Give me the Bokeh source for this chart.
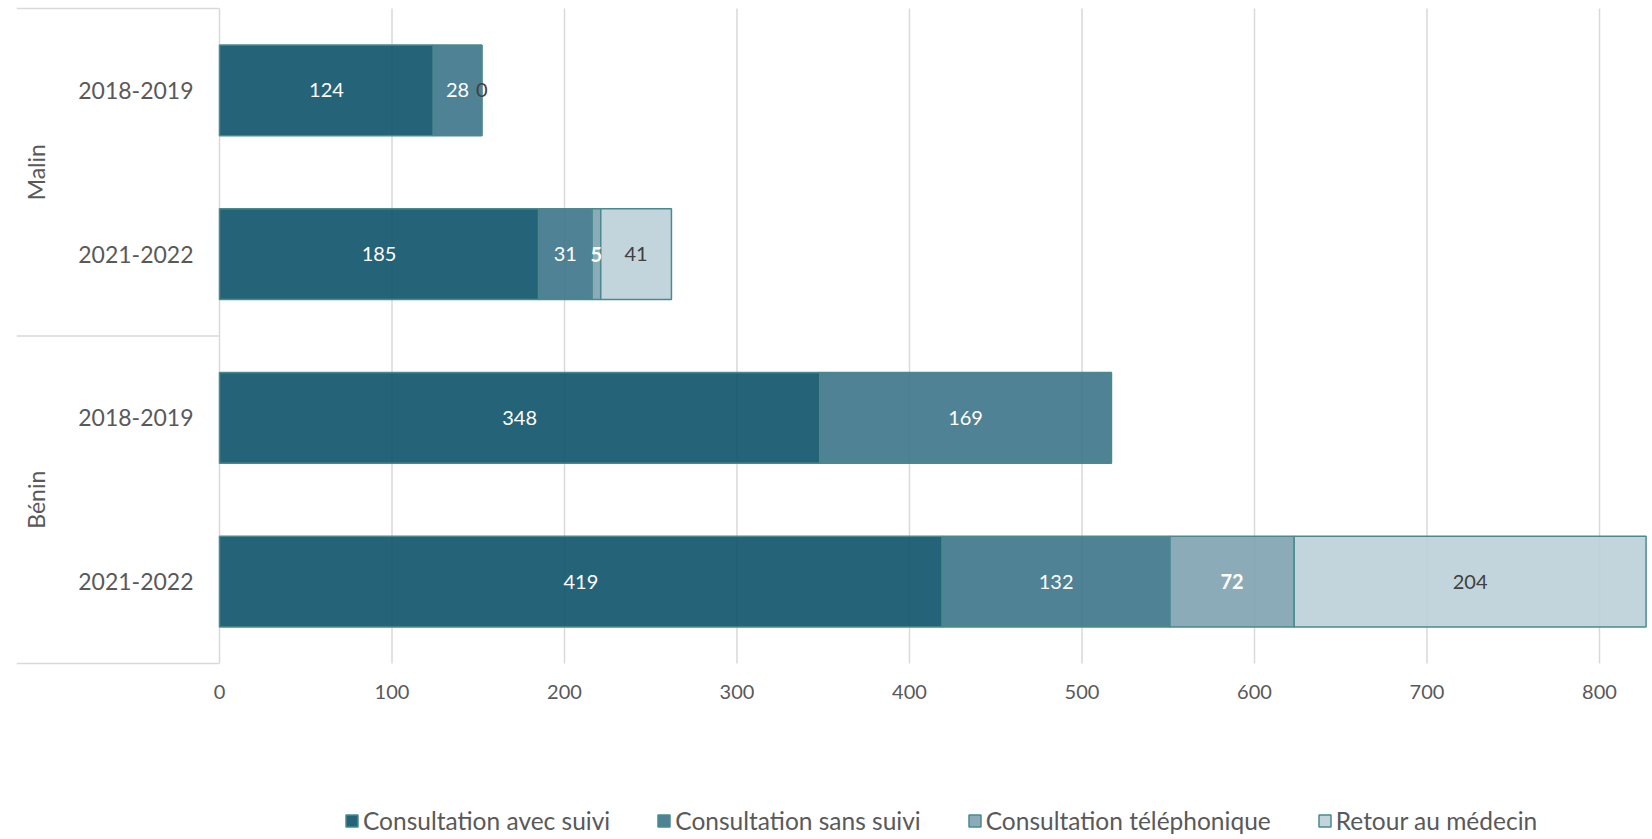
import math
from bokeh.plotting import figure
from bokeh.models import ColumnDataSource, Range1d
from bokeh.core.properties import value
from bokeh.embed import file_html
from bokeh.resources import INLINE

# ---- data ----
groups = ["Malin", "Malin", "Bénin", "Bénin"]
periods = ["2018-2019", "2021-2022", "2018-2019", "2021-2022"]
series_names = ["Consultation avec suivi", "Consultation sans suivi",
                "Consultation téléphonique", "Retour au médecin"]
avec_suivi = [124, 185, 348, 419]
sans_suivi = [28, 31, 169, 132]
telephonique = [None, 5, None, 72]
retour_medecin = [0, 41, None, 204]
x_ticks = [0, 100, 200, 300, 400, 500, 600, 700, 800]

# ---- styling ----
fills = ["#0D526A", "#3C7488", "#7EA2B0", "#BDD0D8"]
outline = "#4A8A8F"
label_colors = ["#FFFFFF", "#FFFFFF", "#FFFFFF", "#404040"]
label_styles = ["normal", "normal", "bold", "normal"]
FONT = "Lato"
GRID = "#D9D9D9"
TXT = "#595959"

n = len(periods)
ypos = [n - i - 0.5 for i in range(n)]          # slot centres, top to bottom
series = [avec_suivi, sans_suivi, telephonique, retour_medecin]
keys = ["s0", "s1", "s2", "s3"]

data = {"y": ypos}
for k, vals in zip(keys, series):
    data[k] = [v if v is not None else 0 for v in vals]
src = ColumnDataSource(data)

W, H = 1652, 839
left_border = 16
px_x = 1.725                 # pixels per unit of value
px_y = 163.75                # pixels per category slot
x_start = -(219 - left_border) / px_x
x_end = x_start + (W - left_border) / px_x
y_end = n + 8 / px_y
y_start = -(H - 663) / px_y

p = figure(width=W, height=H, x_range=Range1d(x_start, x_end),
           y_range=Range1d(y_start, y_end),
           output_backend="svg", toolbar_location=None,
           min_border_left=left_border, min_border_right=0,
           min_border_top=0, min_border_bottom=0)
p.outline_line_color = None
p.background_fill_color = "white"
p.border_fill_color = "white"
p.xaxis.visible = False
p.yaxis.visible = False
p.xgrid.visible = False
p.ygrid.visible = False

# vertical gridlines
gx = [t for t in x_ticks if t != 0]
p.segment(x0=gx, x1=gx, y0=[0] * len(gx), y1=[n] * len(gx),
          line_color=GRID, line_width=1.5)

# group separators in the label area + vertical axis line
bounds = [n]
for i in range(1, n):
    if groups[i] != groups[i - 1]:
        bounds.append(n - i)
bounds.append(0)
p.segment(x0=[x_start] * len(bounds), x1=[0] * len(bounds), y0=bounds, y1=bounds,
          line_color=GRID, line_width=1.5)
p.segment(x0=[0], x1=[0], y0=[0], y1=[n], line_color=GRID, line_width=1.5)

# stacked bars
p.hbar_stack(keys, y="y", height=0.555, source=src,
             fill_color=fills, fill_alpha=0.9,
             line_color=outline, line_width=1.5,
             legend_label=series_names)

# data labels
cum = [0] * n
for i, (k, vals) in enumerate(zip(keys, series)):
    xs, ys, ts = [], [], []
    for j, v in enumerate(vals):
        vv = v if v is not None else 0
        if v is not None:
            xs.append(cum[j] + vv / 2)
            ys.append(ypos[j])
            ts.append(str(v))
        cum[j] += vv
    lsrc = ColumnDataSource(dict(x=xs, y=ys, t=ts))
    p.text(x="x", y="y", text="t", source=lsrc, text_align="center",
           text_baseline="middle", text_font=value(FONT),
           text_font_size="20px", text_color=label_colors[i],
           text_font_style=label_styles[i])

# x tick labels
tsrc = ColumnDataSource(dict(x=x_ticks, y=[0] * len(x_ticks), t=[str(t) for t in x_ticks]))
p.text(x="x", y="y", text="t", source=tsrc, y_offset=28, text_align="center",
       text_baseline="middle", text_font=value(FONT), text_font_size="20px",
       text_color=TXT)

# category labels
csrc = ColumnDataSource(dict(x=[0] * n, y=ypos, t=periods))
p.text(x="x", y="y", text="t", source=csrc, x_offset=-26,
       text_align="right", text_baseline="middle", text_font=value(FONT),
       text_font_size="23px", text_color=TXT)

# group labels (rotated)
ug, gy = [], []
for g in groups:
    if g not in ug:
        ug.append(g)
        idx = [ypos[i] for i in range(n) if groups[i] == g]
        gy.append(sum(idx) / len(idx))
gsrc = ColumnDataSource(dict(x=[0] * len(ug), y=gy, t=ug))
p.text(x="x", y="y", text="t", source=gsrc, x_offset=-184, angle=math.pi / 2,
       text_align="center", text_baseline="middle", text_font=value(FONT),
       text_font_size="23px", text_color=TXT)

# legend
lg = p.legend[0]
lg.orientation = "horizontal"
lg.location = (328, 4)
lg.label_text_font = FONT
lg.label_text_font_size = "24.5px"
lg.label_text_color = TXT
lg.glyph_width = 15
lg.glyph_height = 15
lg.label_standoff = 4
lg.spacing = 46
lg.padding = 0
lg.margin = 0
lg.border_line_color = None
lg.background_fill_alpha = 0

open("out.html", "w").write(file_html(p, INLINE))
